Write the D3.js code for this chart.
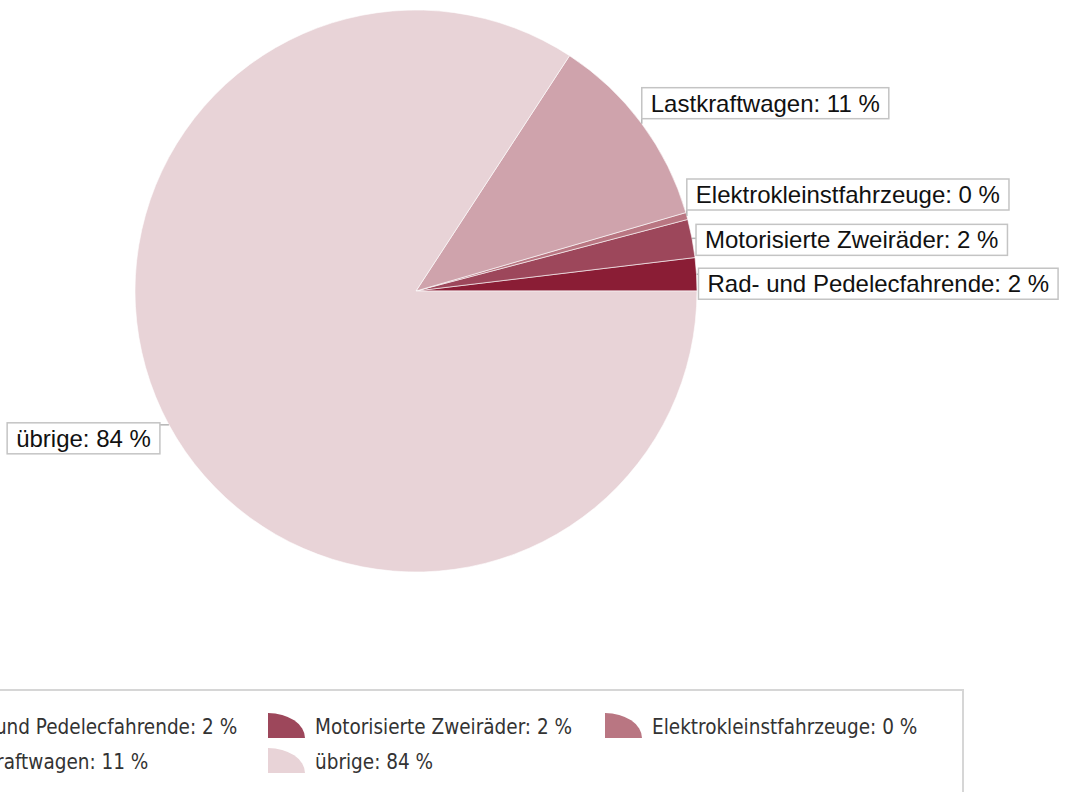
<!DOCTYPE html>
<html>
<head>
<meta charset="utf-8">
<script src="https://cdn.jsdelivr.net/npm/d3@7"></script>
<style>
  body { margin: 0; background: #fff; overflow: hidden; }
</style>
</head>
<body>
<div id="chart"></div>
<script>
// Data
const categories = [
  "Rad- und Pedelecfahrende",
  "Motorisierte Zweiräder",
  "Elektrokleinstfahrzeuge",
  "Lastkraftwagen",
  "übrige"
];
const shares = [1.9, 2.2, 0.4, 11.3, 84.2];
const colors = ["#8a1d35", "#9d475b", "#b97682", "#cfa3ac", "#e8d3d7"];

// Label box offsets relative to the slice edge point (layout only)
const labelOffsets = [
  { dx: 2, dy: -6 },
  { dx: 4, dy: -14 },
  { dx: 0, dy: -37 },
  { dx: 0, dy: -36 },
  { dx: -9, dy: -2, left: true }
];

const width = 1071;
const height = 792;
const cx = 416, cy = 291, radius = 281;

const svg = d3.select("#chart")
  .append("svg")
  .attr("width", width)
  .attr("height", height)
  .attr("viewBox", [0, 0, width, height]);

const data = categories.map((name, i) => ({ name, value: shares[i], color: colors[i], i }));

// counterclockwise from 3 o'clock
const pie = d3.pie()
  .sort(null)
  .value(d => d.value)
  .startAngle(Math.PI / 2)
  .endAngle(Math.PI / 2 - 2 * Math.PI);

const arcs = pie(data);
const arc = d3.arc().innerRadius(0).outerRadius(radius);

const g = svg.append("g").attr("transform", `translate(${cx},${cy})`);

g.selectAll("path")
  .data(arcs)
  .join("path")
  .attr("d", arc)
  .attr("fill", d => d.data.color)
  .attr("stroke", "#fff")
  .attr("stroke-opacity", 0.6)
  .attr("stroke-width", 1);

// Slice labels
const fmt = v => `${Math.round(v)} %`;
const labels = svg.append("g").attr("font-family", "'Liberation Sans', Arial, sans-serif").attr("font-size", 24);

arcs.forEach((a, i) => {
  const mid = (a.startAngle + a.endAngle) / 2;
  const ax = cx + radius * Math.sin(mid);
  const ay = cy - radius * Math.cos(mid);
  const off = labelOffsets[i];
  const lg = labels.append("g");
  const t = lg.append("text")
    .attr("fill", "#111")
    .text(`${a.data.name}: ${fmt(a.data.value)}`);
  const tw = t.node().getComputedTextLength();
  const bw = tw + 18, bh = 31;
  const bx = off.left ? ax + off.dx - bw : ax + off.dx;
  const by = ay + off.dy;
  t.attr("x", bx + 9).attr("y", by + 24);
  // leader to the nearest point of the box
  const px = Math.max(bx, Math.min(ax, bx + bw));
  const py = Math.max(by, Math.min(ay, by + bh));
  lg.insert("line", "text")
    .attr("x1", ax).attr("y1", ay)
    .attr("x2", px).attr("y2", py)
    .attr("stroke", "#b5b5b5")
    .attr("stroke-width", 1.5);
  lg.insert("rect", "text")
    .attr("x", bx).attr("y", by)
    .attr("width", bw).attr("height", bh)
    .attr("fill", "#fff")
    .attr("stroke", "#c4c4c4")
    .attr("stroke-width", 1.5);
});

// Legend (runs off the left edge, as in the original)
const legend = svg.append("g");
legend.append("rect")
  .attr("x", -130).attr("y", 690)
  .attr("width", 1093).attr("height", 200)
  .attr("fill", "#fff")
  .attr("stroke", "#d6d6d6")
  .attr("stroke-width", 2);

const colX = d3.scaleOrdinal().domain([0, 1, 2]).range([-100, 268, 605]);
const rowY = d3.scalePoint().domain([0, 1]).range([713, 748]);
const sw = 37, sh = 25;

const items = legend.selectAll("g.item")
  .data(data)
  .join("g")
  .attr("class", "item")
  .attr("transform", d => `translate(${colX(d.i % 3)},${rowY(Math.floor(d.i / 3))})`);

items.append("path")
  .attr("d", `M0,${sh} L0,0 A${sw},${sh} 0 0 1 ${sw},${sh} Z`)
  .attr("fill", d => d.color);

items.append("text")
  .attr("x", sw + 10)
  .attr("y", 21)
  .attr("font-family", "'DejaVu Sans Condensed', 'DejaVu Sans', sans-serif")
  .attr("font-stretch", "condensed")
  .attr("font-size", 20.5)
  .attr("fill", "#333")
  .text(d => `${d.name}: ${fmt(d.value)}`);
</script>
</body>
</html>
